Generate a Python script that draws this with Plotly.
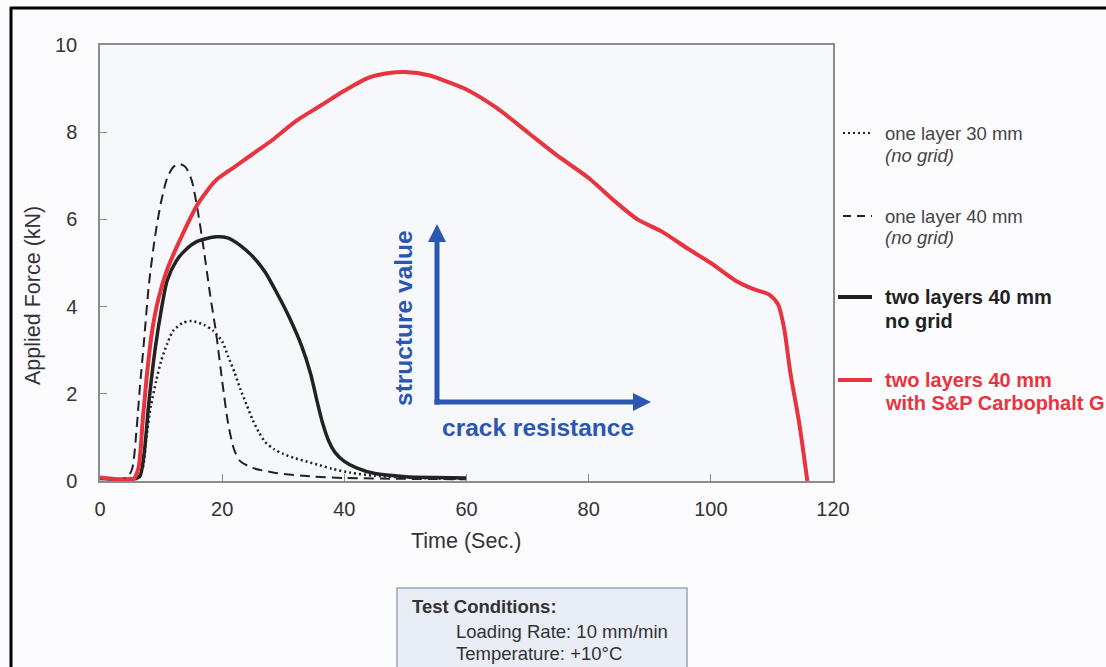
import plotly.graph_objects as go

# Time (s) and applied force (kN) for each specimen
t_one30 = [0, 3, 6, 7, 7.6, 8.3, 9.2, 10, 11, 12, 13.5, 15, 17, 18.5, 20, 21, 22, 23, 24, 25, 26, 27,
           28.5, 30, 32, 34, 36, 38, 41, 45, 50, 55, 60]
f_one30 = [0.06, 0.04, 0.05, 0.3, 1.0, 1.7, 2.3, 2.75, 3.15, 3.45, 3.62, 3.67, 3.58, 3.45, 3.2, 2.85,
           2.5, 2.1, 1.75, 1.4, 1.12, 0.9, 0.73, 0.62, 0.52, 0.44, 0.36, 0.28, 0.19, 0.12, 0.08, 0.06,
           0.05]

t_one40 = [0, 3, 4.5, 5.3, 6, 6.5, 7.2, 8, 9, 10, 11, 12, 13, 14, 15, 16, 17, 18, 19, 20, 21, 22, 23,
           25, 29, 35, 40, 50, 60]
f_one40 = [0.06, 0.04, 0.08, 0.3, 1.2, 2.1, 3.2, 4.5, 5.6, 6.4, 6.95, 7.2, 7.27, 7.2, 6.9, 6.2, 5.3,
           4.3, 3.4, 2.3, 1.3, 0.7, 0.45, 0.3, 0.18, 0.1, 0.07, 0.05, 0.04]

t_two40 = [0, 3, 5.5, 6.5, 7.2, 8, 9, 10, 11, 12.5, 14, 16, 19, 21, 23, 25, 27, 29, 31, 33, 34.5,
           35.5, 36.5, 37.5, 38.5, 40, 42, 45, 50, 55, 60]
f_two40 = [0.06, 0.04, 0.05, 0.1, 0.6, 1.8, 3.0, 3.9, 4.6, 5.05, 5.3, 5.5, 5.6, 5.57, 5.4, 5.15, 4.8,
           4.3, 3.75, 3.1, 2.45, 1.85, 1.3, 0.9, 0.65, 0.45, 0.3, 0.17, 0.1, 0.08, 0.07]

t_grid = [0, 2, 4, 5.5, 6.3, 7, 7.8, 8.6, 9.6, 11, 13, 16, 19, 22, 25, 28.5, 32, 36, 40, 44, 47, 50,
          54, 57, 60, 65, 70, 75, 80, 84, 88, 92, 96, 100, 104, 107, 109.5, 111, 112, 113, 114.5, 115.8]
f_grid = [0.08, 0.05, 0.02, 0.05, 0.3, 1.4, 2.6, 3.5, 4.2, 4.85, 5.5, 6.35, 6.9, 7.2, 7.5, 7.85, 8.25,
          8.6, 8.95, 9.25, 9.35, 9.38, 9.3, 9.15, 8.98, 8.55, 8.0, 7.45, 6.95, 6.45, 6.0, 5.72, 5.35,
          5.0, 4.6, 4.4, 4.28, 4.05, 3.5, 2.5, 1.3, 0.0]

x_ticks = [0, 20, 40, 60, 80, 100, 120]
y_ticks = [0, 2, 4, 6, 8, 10]

W, H = 1106, 667
L, R, T, B = 100, 833, 45, 481
PW, PH = R - L, B - T


def px(x):
    return (x - L) / PW


def py(y):
    return (B - y) / PH


RED = "#e8343f"
INK = "#222222"
GREY = "#444444"
BLUE = "#2b57b3"
FONT = "Liberation Sans, Arial, sans-serif"

fig = go.Figure()
fig.add_trace(go.Scatter(x=t_one30, y=f_one30, mode="lines", line_shape="spline",
                         line=dict(color=INK, width=2.5, dash="2px,3px", smoothing=0.7)))
fig.add_trace(go.Scatter(x=t_one40, y=f_one40, mode="lines", line_shape="spline",
                         line=dict(color=INK, width=2, dash="10px,6px", smoothing=0.7)))
fig.add_trace(go.Scatter(x=t_two40, y=f_two40, mode="lines", line_shape="spline",
                         line=dict(color=INK, width=3.5, smoothing=0.7)))
fig.add_trace(go.Scatter(x=t_grid, y=f_grid, mode="lines", line_shape="spline",
                         line=dict(color=RED, width=4, smoothing=0.7)))

shapes = []
annotations = []

# page frame (left and top edges)
shapes.append(dict(type="line", xref="paper", yref="paper", x0=px(11), x1=px(11),
                   y0=py(7), y1=py(700), line=dict(color="black", width=3)))
shapes.append(dict(type="line", xref="paper", yref="paper", x0=px(10), x1=px(1112),
                   y0=py(8), y1=py(8), line=dict(color="black", width=3)))

# legend samples and labels
legend_rows = [
    (133, "2px,3px", 2, INK, 843, ["one layer 30 mm", "<i>(no grid)</i>"], GREY, False, 22),
    (216, "8px,6px", 2, INK, 843, ["one layer 40 mm", "<i>(no grid)</i>"], GREY, False, 22),
    (297, "solid", 4, INK, 838, ["two layers 40 mm", "no grid"], INK, True, 24),
    (380, "solid", 4, RED, 838, ["two layers 40 mm", "with S&P Carbophalt G"], RED, True, 23),
]
for y0, dash, w, col, xs, lines, tcol, bold, gap in legend_rows:
    shapes.append(dict(type="line", xref="paper", yref="paper", x0=px(xs), x1=px(872),
                       y0=py(y0), y1=py(y0), line=dict(color=col, width=w, dash=dash)))
    for i, txt in enumerate(lines):
        annotations.append(dict(xref="paper", yref="paper", x=px(883), y=py(y0 + i * gap),
                                xanchor="left", yanchor="middle", showarrow=False,
                                text=f"<b>{txt}</b>" if bold else txt,
                                font=dict(family=FONT, size=20 if bold else 18.5, color=tcol)))

# blue orientation arrows
ax0, ay0 = 437, 402
shapes.append(dict(type="line", xref="paper", yref="paper", x0=px(ax0), x1=px(ax0),
                   y0=py(ay0 + 2.5), y1=py(240), line=dict(color=BLUE, width=5)))
shapes.append(dict(type="line", xref="paper", yref="paper", x0=px(ax0 - 2.5), x1=px(636),
                   y0=py(ay0), y1=py(ay0), line=dict(color=BLUE, width=5)))
shapes.append(dict(type="path", xref="paper", yref="paper", fillcolor=BLUE, line=dict(width=0),
                   path=f"M {px(ax0 - 9)} {py(242)} L {px(ax0 + 9)} {py(242)} L {px(ax0)} {py(224)} Z"))
shapes.append(dict(type="path", xref="paper", yref="paper", fillcolor=BLUE, line=dict(width=0),
                   path=f"M {px(633)} {py(ay0 - 9)} L {px(633)} {py(ay0 + 9)} L {px(651)} {py(ay0)} Z"))
annotations.append(dict(xref="paper", yref="paper", x=px(403), y=py(318), textangle=-90,
                        showarrow=False, xanchor="center", yanchor="middle",
                        text="<b>structure value</b>", font=dict(family=FONT, size=24.5, color=BLUE)))
annotations.append(dict(xref="paper", yref="paper", x=px(440), y=py(427), showarrow=False,
                        xanchor="left", yanchor="middle",
                        text="<b>crack resistance</b>", font=dict(family=FONT, size=24.5, color=BLUE)))

# test conditions box
shapes.append(dict(type="rect", xref="paper", yref="paper", x0=px(397), x1=px(687),
                   y0=py(588), y1=py(700), fillcolor="#e9edf6",
                   line=dict(color="#a0a4ae", width=1.5)))
annotations.append(dict(xref="paper", yref="paper", x=px(410), y=py(606), showarrow=False,
                        xanchor="left", yanchor="middle", text="<b>Test Conditions:</b>",
                        font=dict(family=FONT, size=18.5, color="#333333")))
annotations.append(dict(xref="paper", yref="paper", x=px(454), y=py(631), showarrow=False,
                        xanchor="left", yanchor="middle", text="Loading Rate: 10 mm/min",
                        font=dict(family=FONT, size=18.5, color="#333333")))
annotations.append(dict(xref="paper", yref="paper", x=px(454), y=py(653), showarrow=False,
                        xanchor="left", yanchor="middle", text="Temperature: +10°C",
                        font=dict(family=FONT, size=18.5, color="#333333")))

# axis titles
annotations.append(dict(xref="paper", yref="paper", x=px(466), y=py(541), showarrow=False,
                        xanchor="center", yanchor="middle", text="Time (Sec.)",
                        font=dict(family=FONT, size=21.5, color="#333333")))
annotations.append(dict(xref="paper", yref="paper", x=px(33), y=py(296), showarrow=False,
                        textangle=-90, xanchor="center", yanchor="middle",
                        text="Applied Force (kN)",
                        font=dict(family=FONT, size=21.5, color="#333333")))

axis_common = dict(showgrid=False, zeroline=False, showline=True, linecolor="#8c8c8c",
                   linewidth=1.5, mirror=True, ticks="inside", ticklen=7, tickcolor="#8c8c8c",
                   tickwidth=1, tickfont=dict(family=FONT, size=20, color="#333333"))

fig.update_layout(
    width=W, height=H,
    margin=dict(l=L, r=W - R, t=T, b=H - B, pad=0),
    paper_bgcolor="#fcfcfe",
    plot_bgcolor="#f6f8fc",
    showlegend=False,
    shapes=shapes,
    annotations=annotations,
    xaxis=dict(range=[0, 120], tickvals=x_ticks, ticklabelstandoff=9, **axis_common),
    yaxis=dict(range=[0, 10], tickvals=y_ticks, ticklabelstandoff=17, **axis_common),
)

fig.write_html("out.html")
